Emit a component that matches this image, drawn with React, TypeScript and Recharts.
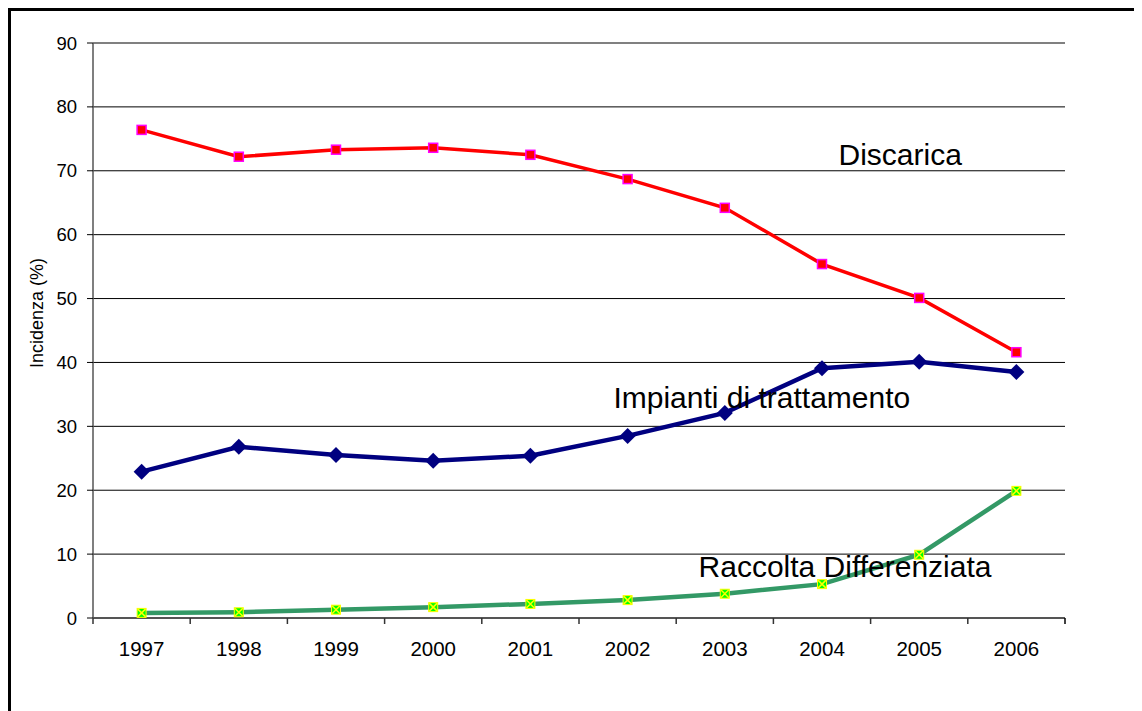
import React from "react";
import {
  LineChart,
  Line,
  XAxis,
  YAxis,
  CartesianGrid,
  ReferenceLine,
  ReferenceDot,
  Label,
} from "recharts";

const YEARS = ["1997", "1998", "1999", "2000", "2001", "2002", "2003", "2004", "2005", "2006"];
const DISCARICA = [76.4, 72.2, 73.3, 73.6, 72.5, 68.7, 64.2, 55.4, 50.1, 41.6];
const IMPIANTI = [22.9, 26.8, 25.5, 24.6, 25.4, 28.5, 32.1, 39.1, 40.1, 38.5];
const RACCOLTA = [0.8, 0.9, 1.3, 1.7, 2.2, 2.8, 3.8, 5.3, 9.9, 19.9];
const Y_TICKS = [0, 10, 20, 30, 40, 50, 60, 70, 80, 90];

const FONT = "'Liberation Sans', Arial, sans-serif";

const CHART_W = 1100;
const CHART_H = 690;
const MARGIN = { top: 32, right: 46, left: 0, bottom: 0 };
const Y_AXIS_W = 82;
const PLOT_W = CHART_W - MARGIN.left - MARGIN.right - Y_AXIS_W;
const STEP = PLOT_W / YEARS.length;

const data = YEARS.map((year, i) => ({
  year,
  discarica: DISCARICA[i],
  impianti: IMPIANTI[i],
  raccolta: RACCOLTA[i],
}));

const SquareDot = (props: any) => {
  const { cx, cy } = props;
  if (cx == null || cy == null) return null;
  return (
    <rect x={cx - 4.5} y={cy - 4.5} width={9} height={9} fill="#FF0000" stroke="#FF00FF" strokeWidth={1.5} />
  );
};

const DiamondDot = (props: any) => {
  const { cx, cy } = props;
  if (cx == null || cy == null) return null;
  return (
    <path d={`M${cx},${cy - 8} L${cx + 8},${cy} L${cx},${cy + 8} L${cx - 8},${cy} Z`} fill="#000080" />
  );
};

const CrossDot = (props: any) => {
  const { cx, cy } = props;
  if (cx == null || cy == null) return null;
  return (
    <g>
      <rect x={cx - 4.5} y={cy - 4.5} width={9} height={9} fill="#00FF00" stroke="#FFFF00" strokeWidth={1} />
      <path d={`M${cx - 4},${cy - 4} L${cx + 4},${cy + 4} M${cx + 4},${cy - 4} L${cx - 4},${cy + 4}`} stroke="#FFFF00" strokeWidth={1.5} />
    </g>
  );
};

// category label in the middle, tick marks on the band edges
const YearTick = (props: any) => {
  const { x, y, payload, index } = props;
  const last = index === YEARS.length - 1;
  return (
    <g>
      <line x1={x - STEP / 2} x2={x - STEP / 2} y1={y} y2={y + 6} stroke="#333" strokeWidth={1.5} />
      {last && <line x1={x + STEP / 2} x2={x + STEP / 2} y1={y} y2={y + 6} stroke="#000" strokeWidth={1.5} />}
      <text x={x} y={y + 23} dy="0.71em" textAnchor="middle" fontSize={20.5} fontFamily={FONT} fill="#000">
        {payload.value}
      </text>
    </g>
  );
};

const seriesLabel = (text: string, dx: number) => (props: any) => (
  <text
    x={props.cx + dx}
    y={props.cy}
    dy="0.355em"
    textAnchor="middle"
    fontSize={30}
    fontFamily={FONT}
    fill="#000"
  >
    {text}
  </text>
);

export default function App() {
  return (
    <div
      style={{
        width: 1160,
        height: 720,
        border: "3px solid #000",
        boxSizing: "border-box",
        background: "#fff",
        fontFamily: FONT,
      }}
    >
      <LineChart width={CHART_W} height={CHART_H} data={data} margin={MARGIN}>
        <CartesianGrid vertical={false} stroke="#000" strokeWidth={1} />
        <XAxis
          dataKey="year"
          height={83}
          padding={{ left: STEP / 2, right: STEP / 2 }}
          axisLine={{ stroke: "#555", strokeWidth: 2 }}
          tickLine={false}
          tickSize={0}
          tickMargin={0}
          interval={0}
          tick={<YearTick />}
        />
        <YAxis
          domain={[0, 90]}
          ticks={Y_TICKS}
          width={Y_AXIS_W}
          axisLine={{ stroke: "#555", strokeWidth: 1.5 }}
          tickLine={{ stroke: "#000" }}
          tickSize={6}
          tickMargin={10}
          tick={{ fontSize: 18.5, fill: "#000", fontFamily: FONT }}
        >
          <Label
            content={(p: any) => (
              <text
                x={p.viewBox.x + 26}
                y={p.viewBox.y + 270}
                transform={`rotate(-90, ${p.viewBox.x + 26}, ${p.viewBox.y + 270})`}
                textAnchor="middle"
                dy="0.355em"
                fontSize={18}
                fontFamily={FONT}
                fill="#000"
              >
                Incidenza (%)
              </text>
            )}
          />
        </YAxis>
        <YAxis
          yAxisId="right"
          orientation="right"
          width={0}
          domain={[0, 90]}
          tick={false}
          tickLine={false}
          axisLine={{ stroke: "#808080", strokeWidth: 2 }}
        />
        <ReferenceLine y={90} stroke="#808080" strokeWidth={2} />
        <Line
          dataKey="discarica"
          stroke="#FF0000"
          strokeWidth={3.5}
          dot={<SquareDot />}
          activeDot={false}
          isAnimationActive={false}
        />
        <Line
          dataKey="impianti"
          stroke="#000080"
          strokeWidth={4.5}
          dot={<DiamondDot />}
          activeDot={false}
          isAnimationActive={false}
        />
        <Line
          dataKey="raccolta"
          stroke="#339966"
          strokeWidth={4.5}
          dot={<CrossDot />}
          activeDot={false}
          isAnimationActive={false}
        />
        <ReferenceDot x="2005" y={72.5} r={0} shape={seriesLabel("Discarica", -19)} />
        <ReferenceDot x="2003" y={34.5} r={0} shape={seriesLabel("Impianti di trattamento", 37)} />
        <ReferenceDot x="2004" y={8.1} r={0} shape={seriesLabel("Raccolta Differenziata", 23)} />
      </LineChart>
    </div>
  );
}
